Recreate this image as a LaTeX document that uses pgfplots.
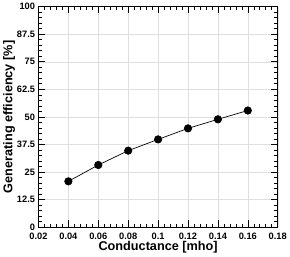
\documentclass[border=0pt]{standalone}
\usepackage{fontspec}
\setmainfont{Liberation Sans}
\usepackage{pgfplots}
\pgfplotsset{compat=1.18}
\begin{document}
\begin{tikzpicture}
\begin{axis}[
  scale only axis,
  width=245pt, height=226pt,
  xmin=0.02, xmax=0.18, ymin=0, ymax=100,
  xtick={0.02,0.04,...,0.18},
  xticklabels={0.02,0.04,0.06,0.08,0.1,0.12,0.14,0.16,0.18},
  ytick={0,12.5,25,37.5,50,62.5,75,87.5,100},
  yticklabels={0,12.5,25,37.5,50,62.5,75,87.5,100},
  minor x tick num=4, minor y tick num=4,
  tick align=inside,
  major tick length=7pt, minor tick length=3.5pt,
  xtick pos=both, ytick pos=both,
  grid=major,
  major grid style={gray!25, line width=0.4pt},
  axis line style={line width=0.8pt},
  every tick/.style={black, line width=0.6pt},
  /pgf/number format/assume math mode=true,
  tick label style={font=\fontsize{9.5}{10}\selectfont\bfseries},
  xticklabel style={yshift=-2.5pt},
  xlabel={Conductance [mho]},
  ylabel={Generating efficiency [\%]},
  label style={font=\fontsize{13}{14}\selectfont\bfseries},
  xlabel style={yshift=5pt},
  ylabel style={yshift=-5pt},
]
\addplot[black, line width=0.7pt, mark=*, mark size=3.8pt] coordinates {
  (0.04,20.8) (0.06,28.2) (0.08,34.7) (0.10,39.8) (0.12,44.8) (0.14,48.9) (0.16,52.9)
};
\end{axis}
\end{tikzpicture}
\end{document}
